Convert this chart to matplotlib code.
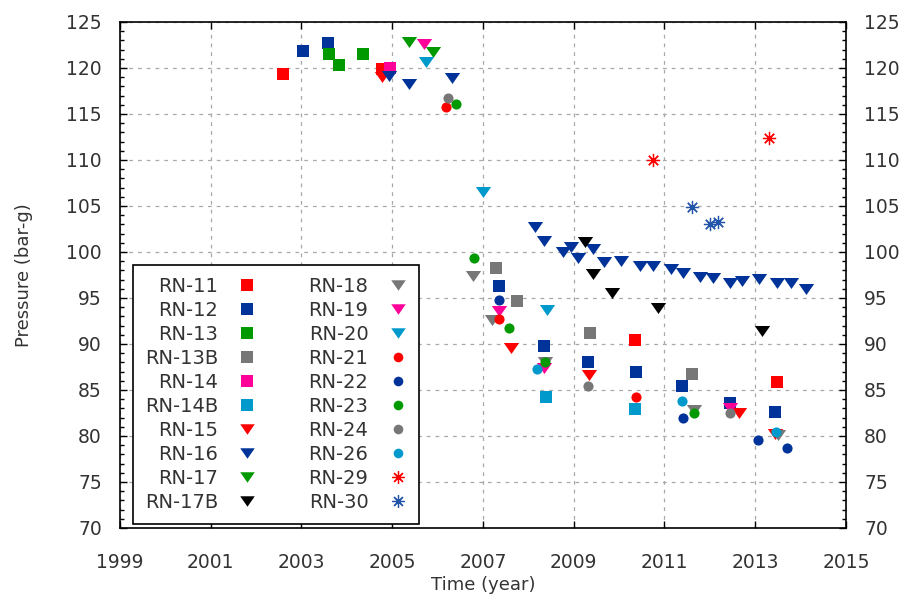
import matplotlib
matplotlib.use("Agg")
import matplotlib.pyplot as plt
from matplotlib.lines import Line2D
from matplotlib.ticker import MultipleLocator
from matplotlib.path import Path

# ---- data (year, pressure in bar-g) ----
rn11_t = [2002.60, 2004.77, 2010.34, 2013.47]
rn11_p = [119.4, 119.86, 90.4, 85.9]
rn12_t = [2003.03, 2003.59, 2007.35, 2008.34, 2009.31, 2010.38, 2011.38, 2012.44, 2013.44]
rn12_p = [121.85, 122.68, 96.34, 89.82, 88.08, 86.99, 85.47, 83.62, 82.57]
rn13_t = [2003.61, 2003.83, 2004.36]
rn13_p = [121.49, 120.33, 121.56]
rn13b_t = [2007.29, 2007.74, 2009.35, 2011.61]
rn13b_p = [98.23, 94.67, 91.23, 86.7]
rn14_t = [2004.95]
rn14_p = [119.97]
rn14b_t = [2008.38, 2010.34]
rn14b_p = [84.27, 82.9]
rn15_t = [2004.77, 2007.62, 2009.34, 2012.64, 2013.44]
rn15_p = [119.06, 89.53, 86.63, 82.47, 80.2]
rn16_t = [2004.92, 2005.36, 2006.32, 2008.15, 2008.35, 2008.76, 2008.94, 2009.09,
          2009.43, 2009.67, 2010.04, 2010.45, 2010.74, 2011.14, 2011.41, 2011.78,
          2012.08, 2012.44, 2012.70, 2013.08, 2013.47, 2013.78, 2014.11]
rn16_p = [119.1, 118.26, 118.88, 102.75, 101.23, 100.04, 100.58, 99.31,
          100.29, 98.95, 99.06, 98.48, 98.48, 98.12, 97.68, 97.25,
          97.14, 96.6, 96.85, 97.03, 96.6, 96.6, 95.98]
rn17_t = [2005.36, 2005.90]
rn17_p = [122.86, 121.77]
rn17b_t = [2009.25, 2009.42, 2009.85, 2010.85, 2013.14]
rn17b_p = [101.12, 97.61, 95.55, 93.9, 91.4]
rn18_t = [2006.79, 2007.19, 2008.37, 2011.65, 2013.50]
rn18_p = [97.42, 92.6, 88.08, 82.8, 80.1]
rn19_t = [2005.71, 2007.35, 2008.34, 2012.44]
rn19_p = [122.6, 93.62, 87.36, 83.08]
rn20_t = [2005.74, 2006.99, 2008.42]
rn20_p = [120.69, 106.56, 93.7]
rn21_t = [2006.18, 2007.35, 2010.38]
rn21_p = [115.8, 92.68, 84.27]
rn22_t = [2007.35, 2011.41, 2013.07, 2013.71]
rn22_p = [94.78, 81.92, 79.57, 78.73]
rn23_t = [2006.40, 2006.81, 2007.58, 2008.37, 2011.65]
rn23_p = [116.09, 99.38, 91.7, 88.0, 82.5]
rn24_t = [2006.22, 2009.31, 2012.44]
rn24_p = [116.78, 85.43, 82.47]
rn26_t = [2008.18, 2011.38, 2013.45]
rn26_p = [87.28, 83.84, 80.4]
rn29_t = [2010.74, 2013.30]
rn29_p = [110.0, 112.36]
rn30_t = [2011.61, 2012.00, 2012.17]
rn30_p = [104.93, 103.0, 103.3]

x_ticks = [1999, 2001, 2003, 2005, 2007, 2009, 2011, 2013, 2015]
y_ticks = [70, 75, 80, 85, 90, 95, 100, 105, 110, 115, 120, 125]

# ---- styles ----
RED = "#ff0000"
BLUE = "#003399"
GREEN = "#009900"
GRAY = "#777777"
PINK = "#ff0099"
CYAN = "#0099cc"
BLACK = "#000000"
STARBLUE = "#2255aa"

TRI = Path([(-1.0, 0.72), (1.0, 0.72), (0.0, -0.72), (-1.0, 0.72)],
           [Path.MOVETO, Path.LINETO, Path.LINETO, Path.CLOSEPOLY])
SQ, CIR, STAR = "s", "o", (8, 2, 0)
sizes = {"s": 9.3, "t": 11.0, "o": 7.3, "*": 9.5}

series = [
    ("RN-11", rn11_t, rn11_p, "s", RED),
    ("RN-12", rn12_t, rn12_p, "s", BLUE),
    ("RN-13", rn13_t, rn13_p, "s", GREEN),
    ("RN-13B", rn13b_t, rn13b_p, "s", GRAY),
    ("RN-14", rn14_t, rn14_p, "s", PINK),
    ("RN-14B", rn14b_t, rn14b_p, "s", CYAN),
    ("RN-15", rn15_t, rn15_p, "t", RED),
    ("RN-16", rn16_t, rn16_p, "t", BLUE),
    ("RN-17", rn17_t, rn17_p, "t", GREEN),
    ("RN-17B", rn17b_t, rn17b_p, "t", BLACK),
    ("RN-18", rn18_t, rn18_p, "t", GRAY),
    ("RN-19", rn19_t, rn19_p, "t", PINK),
    ("RN-20", rn20_t, rn20_p, "t", CYAN),
    ("RN-21", rn21_t, rn21_p, "o", RED),
    ("RN-22", rn22_t, rn22_p, "o", BLUE),
    ("RN-23", rn23_t, rn23_p, "o", GREEN),
    ("RN-24", rn24_t, rn24_p, "o", GRAY),
    ("RN-26", rn26_t, rn26_p, "o", CYAN),
    ("RN-29", rn29_t, rn29_p, "*", RED),
    ("RN-30", rn30_t, rn30_p, "*", STARBLUE),
]
marker_of = {"s": SQ, "t": TRI, "o": CIR, "*": STAR}

plt.rcParams["font.family"] = ["DejaVu Sans"]
TXT = "#333333"

fig = plt.figure(figsize=(9.07, 5.96), dpi=100)
ax = fig.add_axes([0.1323, 0.1141, 0.8004, 0.8490])

handles = []
for label, t, p, key, c in series:
    m = marker_of[key]
    if key == "*":
        kw = dict(markerfacecolor=c, markeredgecolor=c, markeredgewidth=0.9)
    else:
        kw = dict(markerfacecolor=c, markeredgewidth=0)
    ax.plot(t, p, linestyle="none", marker=m, markersize=sizes[key], **kw)
    handles.append(Line2D([], [], linestyle="none", marker=m,
                          markersize=sizes[key] * 0.95, label=label, **kw))

ax.set_xlim(1999, 2015)
ax.set_ylim(70, 125)
ax.set_xticks(x_ticks)
ax.set_yticks(y_ticks)
ax.yaxis.set_minor_locator(MultipleLocator(1))

ax.grid(True, which="major", color="#a8a8a8", linestyle=(0, (3, 4)), linewidth=0.9)
ax.set_axisbelow(True)

ax.tick_params(which="both", direction="in", top=True, right=True,
               labelright=True, labelsize=13.5, labelcolor=TXT, width=1.0)
ax.tick_params(axis="y", which="major", length=5, pad=13)
ax.tick_params(axis="y", which="minor", length=3)
ax.tick_params(axis="x", which="major", length=5, pad=18)
for s in ax.spines.values():
    s.set_linewidth(1.2)

ax.set_xlabel("Time (year)", fontsize=13, color=TXT, labelpad=3)
ax.set_ylabel("Pressure (bar-g)", fontsize=13, color=TXT, labelpad=24)

leg = ax.legend(handles=handles, ncol=2, markerfirst=False, loc="lower left",
                bbox_to_anchor=(0.018, 0.008), borderaxespad=0,
                fontsize=14, handlelength=1.0, handletextpad=1.0,
                columnspacing=2.66, labelspacing=0.26, fancybox=False,
                framealpha=1, edgecolor="black", borderpad=0.6,
                numpoints=1)
leg.get_frame().set_linewidth(1.2)
for txt in leg.get_texts():
    txt.set_color(TXT)

fig.savefig("out.png", dpi=100)
